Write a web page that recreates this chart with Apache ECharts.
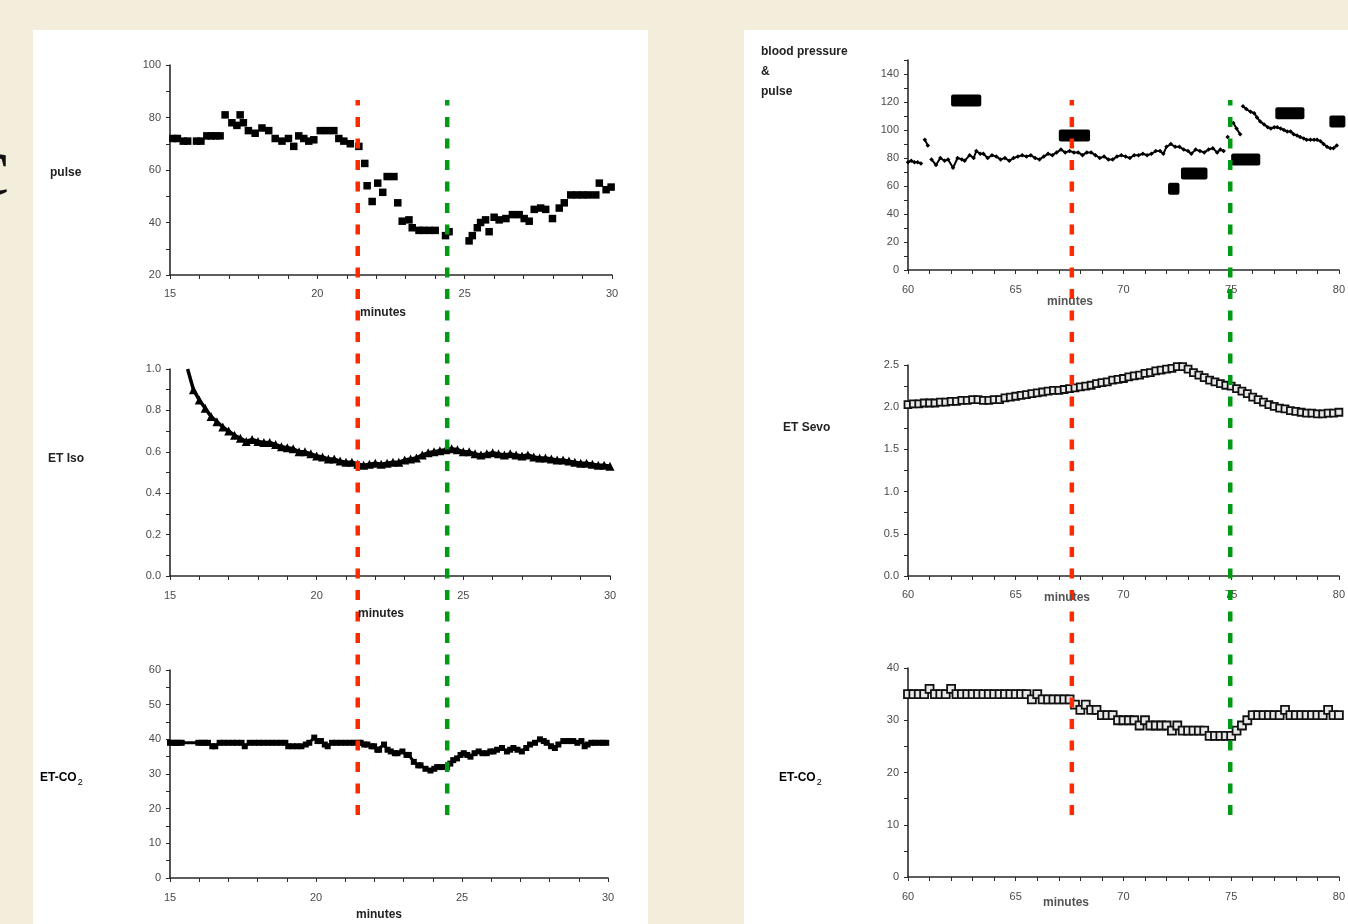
<!DOCTYPE html>
<html>
<head>
<meta charset="utf-8">
<script src="https://cdn.jsdelivr.net/npm/echarts@6/dist/echarts.min.js"></script>
<style>
  html, body { margin: 0; padding: 0; }
  body { width: 1348px; height: 924px; background: #f3eddb; position: relative; overflow: hidden; }
  .panel { position: absolute; background: #fff; }
  #chart { position: absolute; left: 0; top: 0; width: 1348px; height: 924px; }
</style>
</head>
<body>
<div class="panel" style="left:33px;top:30px;width:615px;height:894px"></div>
<div class="panel" style="left:744px;top:30px;width:604px;height:894px"></div>
<div id="chart"></div>
<script>
// ---- left: pulse (15-30 min) ----
const pulseMin = [15.1, 15.25, 15.45, 15.6, 15.9, 16.05, 16.25, 16.4, 16.55, 16.7,
  16.87, 17.1, 17.27, 17.38, 17.49, 17.66, 17.89, 18.12, 18.35, 18.57,
  18.8, 19.02, 19.2, 19.37, 19.54, 19.71, 19.88, 20.1, 20.33, 20.56,
  20.73, 20.9, 21.12, 21.41, 21.61, 21.69, 21.86, 22.05, 22.22, 22.37,
  22.6, 22.73, 22.88, 23.11, 23.22, 23.45, 23.6, 23.8, 24.0, 24.35,
  24.47, 25.15, 25.26, 25.43, 25.54, 25.71, 25.83, 26.0, 26.17, 26.4,
  26.62, 26.85, 27.02, 27.19, 27.36, 27.58, 27.75, 27.98, 28.21, 28.38,
  28.6, 28.8, 29.0, 29.2, 29.45, 29.57, 29.8, 29.97]
const pulseVal = [72, 72, 71, 71, 71, 71, 73, 73, 73, 73,
  81, 78, 77, 81, 78, 75, 74, 76, 75, 72,
  71, 72, 69, 73, 72, 71, 71.5, 75, 75, 75,
  72, 71, 70, 69, 62.5, 54, 48, 55, 51.5, 57.5,
  57.5, 47.5, 40.5, 41, 38, 37, 37, 37, 37, 35,
  36.5, 33, 35, 38, 40, 41, 36.5, 42, 41, 41.5,
  43, 43, 41.5, 40.5, 45, 45.5, 45, 41.5, 45.5, 47.5,
  50.5, 50.5, 50.5, 50.5, 50.5, 55, 52.5, 53.5]

// ---- left: ET Iso ----
const isoMin = [15.6, 15.8, 16.0, 16.2, 16.4, 16.6, 16.8, 17.0, 17.2, 17.4, 17.6, 17.8,
  18.0, 18.2, 18.4, 18.6, 18.8, 19.0, 19.2, 19.4, 19.6, 19.8,
  20.0, 20.2, 20.4, 20.6, 20.8, 21.0, 21.2, 21.4, 21.6, 21.8,
  22.0, 22.2, 22.4, 22.6, 22.8, 23.0, 23.2, 23.4, 23.6, 23.8,
  24.0, 24.2, 24.4, 24.6, 24.8, 25.0, 25.2, 25.4, 25.6, 25.8,
  26.0, 26.2, 26.4, 26.6, 26.8, 27.0, 27.2, 27.4, 27.6, 27.8,
  28.0, 28.2, 28.4, 28.6, 28.8, 29.0, 29.2, 29.4, 29.6, 29.8, 30.0]
const isoVal = [1.0, 0.9, 0.85, 0.81, 0.77, 0.745, 0.72, 0.7, 0.68, 0.665, 0.65, 0.66,
  0.65, 0.645, 0.645, 0.635, 0.625, 0.62, 0.615, 0.6, 0.6, 0.59,
  0.58, 0.575, 0.565, 0.565, 0.555, 0.55, 0.55, 0.54, 0.535, 0.54,
  0.545, 0.54, 0.545, 0.55, 0.55, 0.56, 0.565, 0.57, 0.585, 0.595,
  0.6, 0.605, 0.61, 0.615, 0.61, 0.6, 0.6, 0.59, 0.585, 0.59,
  0.595, 0.59, 0.585, 0.59, 0.585, 0.58, 0.585, 0.575, 0.57, 0.57,
  0.565, 0.56, 0.56, 0.555, 0.55, 0.545, 0.545, 0.54, 0.535, 0.535, 0.53]

// ---- left: ET-CO2 ----
const co2LMin = [15.0, 15.1, 15.2, 15.3, 15.4, 15.97, 16.1, 16.2, 16.3, 16.45, 16.55, 16.7,
  16.85, 17.0, 17.15, 17.3, 17.45, 17.56, 17.73, 17.9, 18.05, 18.2, 18.35, 18.5,
  18.65, 18.8, 18.95, 19.05, 19.2, 19.35, 19.5, 19.65, 19.77, 19.94, 20.05, 20.17,
  20.3, 20.4, 20.55, 20.7, 20.85, 21.0, 21.15, 21.3, 21.45, 21.53, 21.65, 21.76,
  21.9, 21.99, 22.1, 22.16, 22.33, 22.45, 22.56, 22.7, 22.79, 22.96, 23.1, 23.18,
  23.35, 23.5, 23.58, 23.75, 23.92, 24.05, 24.15, 24.3, 24.49, 24.6, 24.7, 24.83,
  24.95, 25.06, 25.18, 25.29, 25.43, 25.57, 25.7, 25.85, 25.97, 26.08, 26.2, 26.37,
  26.54, 26.65, 26.76, 26.9, 27.05, 27.2, 27.33, 27.5, 27.67, 27.8, 27.9, 28.05,
  28.18, 28.3, 28.47, 28.6, 28.7, 28.81, 28.95, 29.09, 29.2, 29.3, 29.43, 29.55,
  29.7, 29.82, 29.94]
const co2LVal = [39, 39, 39, 39, 39, 39, 39, 39, 39, 38, 38, 39,
  39, 39, 39, 39, 39, 38, 39, 39, 39, 39, 39, 39,
  39, 39, 39, 38, 38, 38, 38, 38.5, 39, 40.5, 39.5, 39.5,
  38.5, 38, 39, 39, 39, 39, 39, 39, 39, 39, 38.5, 38.5,
  38, 38, 37, 37, 38.5, 37, 36.5, 36, 36, 36.5, 35.5, 35.5,
  33.5, 32.5, 32.5, 31.5, 31, 31.5, 32, 32, 32, 33, 34, 34.5,
  35.5, 36, 35.5, 35, 36, 36.5, 36, 36, 36.5, 36.5, 37, 37.5,
  36.5, 37, 37.5, 37, 36.5, 37.5, 38.5, 39, 40, 39.5, 39, 38,
  37.5, 38.5, 39.5, 39.5, 39.5, 39.5, 39, 39.5, 38, 38.5, 39, 39,
  39, 39, 39]

// ---- right: pulse (null = gap) ----
const hrMin = [60.0, 60.15, 60.3, 60.45, 60.6, 60.7, 60.78, 60.92, 61.0,
  61.09, 61.3, 61.5, 61.7, 61.86, 62.09, 62.3, 62.5, 62.63, 62.86, 63.05, 63.17, 63.35, 63.5,
  63.7, 63.9, 64.1, 64.3, 64.5, 64.7, 64.9, 65.1, 65.3, 65.5, 65.7, 65.9, 66.1, 66.3,
  66.5, 66.7, 66.9, 67.1, 67.3, 67.5, 67.7, 67.9, 68.1, 68.3, 68.5, 68.7, 68.9, 69.1,
  69.3, 69.5, 69.7, 69.9, 70.1, 70.3, 70.5, 70.7, 70.9, 71.1, 71.3, 71.5, 71.7, 71.85,
  72.0, 72.2, 72.4, 72.6, 72.8, 73.0, 73.15, 73.35, 73.55, 73.75, 73.95, 74.15, 74.35, 74.5,
  74.65, 74.75, 74.84, 74.95, 75.1, 75.25, 75.42, 75.48,
  75.55, 75.7, 75.9, 76.07, 76.2, 76.35, 76.53, 76.7, 76.84, 77.0, 77.14, 77.3, 77.45,
  77.6, 77.76, 77.9, 78.06, 78.2, 78.37, 78.5, 78.68, 78.85, 78.99, 79.15, 79.29, 79.45,
  79.6, 79.75, 79.9]
const hrVal = [77, 78, 77, 77, 76, null, 93, 89, null,
  79, 75, 80, 78, 79, 73, 80, 79, 78, 82, 80, 85, 83, 83,
  80, 82, 81, 79, 80, 78, 80, 81, 82, 81, 82, 80, 79, 81,
  83, 82, 84, 86, 84, 85, 84, 84, 82, 84, 84, 82, 80, 81,
  79, 79, 81, 82, 81, 80, 82, 82, 83, 82, 83, 85, 85, 83,
  88, 90, 88, 88, 86, 85, 83, 86, 85, 84, 86, 87, 84, 86,
  85, null, 95, null, 105, 101, 97, null,
  117, 115, 113, 112, 109, 106, 104, 102, 101, 102, 102, 101, 100,
  99, 99, 97, 96, 95, 94, 93, 93, 93, 93, 92, 90, 88,
  87, 87, 89]

// ---- right: blood pressure readings ----
const bpStart = [62.0, 67.0, 72.07, 72.67, 75.0, 77.05, 79.56]
const bpEnd = [63.4, 68.45, 72.6, 73.9, 76.35, 78.4, 80.3]
const bpVal = [121, 96, 58, 69, 79, 112, 106]

// ---- right: ET Sevo ----
const sevoMin = [60.0, 60.25, 60.5, 60.75, 61.0, 61.25, 61.5, 61.75, 62.0, 62.25, 62.5, 62.75,
  63.0, 63.25, 63.5, 63.75, 64.0, 64.25, 64.5, 64.75, 65.0, 65.25, 65.5, 65.75,
  66.0, 66.25, 66.5, 66.75, 67.0, 67.25, 67.5, 67.75, 68.0, 68.25, 68.5, 68.75,
  69.0, 69.25, 69.5, 69.75, 70.0, 70.25, 70.5, 70.75, 71.0, 71.25, 71.5, 71.75,
  72.0, 72.25, 72.5, 72.75, 73.0, 73.25, 73.5, 73.75, 74.0, 74.25, 74.5, 74.75,
  75.0, 75.25, 75.5, 75.75, 76.0, 76.25, 76.5, 76.75, 77.0, 77.25, 77.5, 77.75,
  78.0, 78.25, 78.5, 78.75, 79.0, 79.25, 79.5, 79.75, 80.0]
const sevoVal = [2.03, 2.04, 2.04, 2.05, 2.05, 2.05, 2.06, 2.06, 2.07, 2.07, 2.08, 2.08,
  2.09, 2.09, 2.08, 2.08, 2.09, 2.09, 2.11, 2.12, 2.13, 2.14, 2.15, 2.16,
  2.17, 2.18, 2.19, 2.2, 2.2, 2.21, 2.22, 2.23, 2.24, 2.25, 2.26, 2.28,
  2.29, 2.3, 2.32, 2.33, 2.34, 2.36, 2.37, 2.38, 2.4, 2.41, 2.43, 2.44,
  2.45, 2.46, 2.48, 2.48, 2.45, 2.41, 2.38, 2.35, 2.32, 2.3, 2.28, 2.26,
  2.25, 2.22, 2.19, 2.16, 2.12, 2.09, 2.06, 2.03, 2.01, 1.99, 1.98, 1.96,
  1.95, 1.94, 1.93, 1.93, 1.92, 1.92, 1.93, 1.93, 1.94]

// ---- right: ET-CO2 ----
const co2RMin = sevoMin.slice()
const co2RVal = [35, 35, 35, 35, 36, 35, 35, 35, 36, 35, 35, 35,
  35, 35, 35, 35, 35, 35, 35, 35, 35, 35, 35, 34,
  35, 34, 34, 34, 34, 34, 34, 33, 32, 33, 32, 32,
  31, 31, 31, 30, 30, 30, 30, 29, 30, 29, 29, 29,
  29, 28, 29, 28, 28, 28, 28, 28, 27, 27, 27, 27,
  27, 28, 29, 30, 31, 31, 31, 31, 31, 31, 32, 31,
  31, 31, 31, 31, 31, 31, 32, 31, 31]

// dashed event markers (minutes)
const leftMarks = [21.4, 24.45]
const rightMarks = [67.55, 74.85]
const markColors = ['#ff2a00', '#009a14']

const FONT = 'Liberation Sans, Arial, sans-serif'
const tickColor = '#4a4a4a'
const axisColor = '#2a2a2a'

const zip = (xs, ys) => xs.map((x, i) => [x, ys[i] == null ? '-' : ys[i]])

const xAxisCfg = (grid, min, max, margin) => ({
  gridIndex: grid, type: 'value', min, max, interval: 1,
  axisLine: { show: true, onZero: false, lineStyle: { color: axisColor, width: 1.6 } },
  axisTick: { show: true, length: 4, lineStyle: { color: axisColor, width: 1 } },
  axisLabel: { formatter: v => (v % 5 === 0 ? v : ''), fontSize: 11, color: tickColor, fontFamily: FONT, margin: margin || 12 },
  splitLine: { show: false }
})

const yAxisCfg = (grid, min, max, interval, fmt) => ({
  gridIndex: grid, type: 'value', min, max, interval,
  axisLine: { show: true, onZero: false, lineStyle: { color: axisColor, width: 1.6 } },
  axisTick: { show: true, length: 4, lineStyle: { color: axisColor, width: 1 } },
  axisLabel: { formatter: fmt, fontSize: 11, color: tickColor, fontFamily: FONT, margin: 9 },
  splitLine: { show: false }
})

const hiddenAxis = (grid, min, max) => ({ gridIndex: grid, type: 'value', min, max, show: false, splitLine: { show: false } })

const grids = [
  { left: 170, top: 65, width: 442, height: 210 },
  { left: 170, top: 369, width: 440, height: 207 },
  { left: 170, top: 670, width: 438, height: 208 },
  { left: 908, top: 60, width: 434, height: 210 },
  { left: 908, top: 365, width: 434, height: 211 },
  { left: 908, top: 668, width: 434, height: 209 },
  { left: 170, top: 100, width: 440, height: 715 },
  { left: 908, top: 100, width: 434, height: 715 }
]

const text = (x, y, t, opt) => ({
  type: 'text', x, y, z: 20,
  style: Object.assign({ text: t, font: 'bold 12px ' + FONT, fill: '#222', verticalAlign: 'middle', align: 'left' }, opt || {})
})
const co2Label = (x, y) => ({
  type: 'text', x, y, z: 20,
  style: {
    text: '{a|ET-CO}{b|2}', verticalAlign: 'middle', align: 'left',
    rich: {
      a: { fontFamily: FONT, fontWeight: 'bold', fontSize: 12, color: '#222' },
      b: { fontFamily: FONT, fontSize: 9, color: '#222', padding: [10, 0, 0, 1] }
    }
  }
})

const chart = echarts.init(document.getElementById('chart'))

const markSeries = (marks, axisIdx) => marks.map((m, i) => ({
  type: 'line', xAxisIndex: axisIdx, yAxisIndex: axisIdx, z: 10, silent: true,
  symbol: 'none', data: [[m, 0], [m, 1]],
  lineStyle: { color: markColors[i], width: 4.5, type: [10, 11.5] }
}))

const openSquares = { color: '#e8e8e8', borderColor: '#111', borderWidth: 1.8, opacity: 1 }

chart.setOption({
  backgroundColor: 'transparent',
  animation: false,
  grid: grids,
  xAxis: [
    xAxisCfg(0, 15, 30, 13), xAxisCfg(1, 15, 30, 14), xAxisCfg(2, 15, 30, 14),
    xAxisCfg(3, 60, 80, 14), xAxisCfg(4, 60, 80, 13), xAxisCfg(5, 60, 80, 14),
    hiddenAxis(6, 15, 30), hiddenAxis(7, 60, 80)
  ],
  yAxis: [
    yAxisCfg(0, 20, 100, 10, v => (v % 20 === 0 ? v : '')),
    yAxisCfg(1, 0, 1, 0.1, v => (Math.round(v * 10) % 2 === 0 ? v.toFixed(1) : '')),
    yAxisCfg(2, 0, 60, 5, v => (v % 10 === 0 ? v : '')),
    yAxisCfg(3, 0, 150, 10, v => (v % 20 === 0 ? v : '')),
    yAxisCfg(4, 0, 2.5, 0.25, v => (Math.round(v * 4) % 2 === 0 ? v.toFixed(1) : '')),
    yAxisCfg(5, 0, 40, 5, v => (v % 10 === 0 ? v : '')),
    hiddenAxis(6, 0, 1), hiddenAxis(7, 0, 1)
  ],
  series: [
    {
      type: 'scatter', xAxisIndex: 0, yAxisIndex: 0, symbol: 'rect', symbolSize: 7.5,
      itemStyle: { color: '#000', opacity: 1 }, data: zip(pulseMin, pulseVal)
    },
    {
      type: 'line', xAxisIndex: 1, yAxisIndex: 1, symbol: 'triangle', symbolSize: 9, showAllSymbol: true,
      lineStyle: { color: '#000', width: 3.5 }, itemStyle: { color: '#000' },
      data: zip(isoMin, isoVal).map((d, i) => (i === 0 ? { value: d, symbol: 'none' } : d))
    },
    {
      type: 'line', xAxisIndex: 2, yAxisIndex: 2, symbol: 'rect', symbolSize: 6, showAllSymbol: true,
      lineStyle: { color: '#000', width: 3 }, itemStyle: { color: '#000' }, data: zip(co2LMin, co2LVal)
    },
    {
      type: 'line', xAxisIndex: 3, yAxisIndex: 3, symbol: 'diamond', symbolSize: 4.5, showAllSymbol: true,
      connectNulls: false, lineStyle: { color: '#000', width: 2 }, itemStyle: { color: '#000' },
      data: zip(hrMin, hrVal)
    },
    {
      type: 'custom', xAxisIndex: 3, yAxisIndex: 3, z: 3,
      data: bpStart.map((s, i) => [s, bpEnd[i], bpVal[i]]),
      encode: { x: [0, 1], y: 2 },
      renderItem: (params, api) => {
        const a = api.coord([api.value(0), api.value(2)])
        const b = api.coord([api.value(1), api.value(2)])
        return { type: 'rect', shape: { x: a[0], y: a[1] - 6, width: b[0] - a[0], height: 12, r: 2 }, style: { fill: '#000' } }
      }
    },
    {
      type: 'line', xAxisIndex: 4, yAxisIndex: 4, symbol: 'rect', symbolSize: 7, showAllSymbol: true,
      lineStyle: { color: '#000', width: 2 }, itemStyle: openSquares,
      data: zip(sevoMin, sevoVal)
    },
    {
      type: 'line', xAxisIndex: 5, yAxisIndex: 5, symbol: 'rect', symbolSize: 8, showAllSymbol: true,
      lineStyle: { color: '#000', width: 2 }, itemStyle: openSquares,
      data: zip(co2RMin, co2RVal)
    },
    ...markSeries(leftMarks, 6),
    ...markSeries(rightMarks, 7)
  ],
  graphic: [
    text(-28, 172, 'c', { font: '84px Liberation Serif, serif', fill: '#111', verticalAlign: 'middle' }),
    text(50, 173, 'pulse'),
    text(48, 459, 'ET Iso'),
    co2Label(40, 778),
    text(383, 313, 'minutes', { align: 'center' }),
    text(381, 614, 'minutes', { align: 'center' }),
    text(379, 915, 'minutes', { align: 'center' }),
    text(761, 52, 'blood pressure'),
    text(761, 72, '&'),
    text(761, 92, 'pulse'),
    text(783, 428, 'ET Sevo'),
    co2Label(779, 778),
    text(1070, 302, 'minutes', { align: 'center', fill: '#555' }),
    text(1067, 598, 'minutes', { align: 'center', fill: '#555' }),
    text(1066, 903, 'minutes', { align: 'center', fill: '#555' })
  ]
})
</script>
</body>
</html>
